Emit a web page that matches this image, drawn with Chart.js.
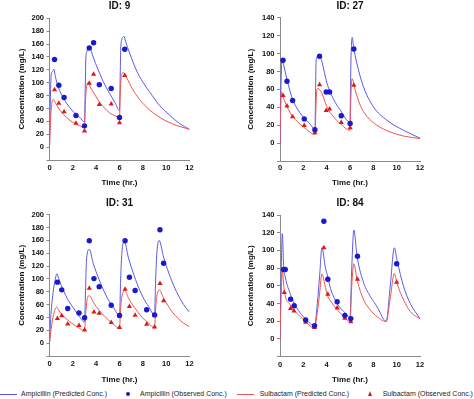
<!DOCTYPE html>
<html>
<head>
<meta charset="utf-8">
<script src="https://cdn.jsdelivr.net/npm/chart.js@4.4.1/dist/chart.umd.min.js"></script>
<style>
  html, body { margin: 0; padding: 0; background: #fff; }
  body { width: 474px; height: 399px; position: relative; overflow: hidden; font-family: "Liberation Sans", Arial, sans-serif; }
  canvas { position: absolute; }
  .lg { position: absolute; font-size: 7px; line-height: 8px; color: #222; white-space: nowrap; }
  .ln { position: absolute; height: 1px; }
  .dot { position: absolute; width: 4px; height: 4px; border-radius: 50%; background: #1a1acc; }
  .tri { position: absolute; width: 0; height: 0; border-left: 2.5px solid transparent; border-right: 2.5px solid transparent; border-bottom: 5px solid #dd1a1a; }
</style>
</head>
<body>
<canvas id="c1" width="239" height="190" style="left:0px;top:0px;width:239px;height:190px"></canvas>
<canvas id="c2" width="220" height="191" style="left:240px;top:0px;width:220px;height:191px"></canvas>
<canvas id="c3" width="239" height="193" style="left:0px;top:194px;width:239px;height:193px"></canvas>
<canvas id="c4" width="220" height="193" style="left:240px;top:194px;width:220px;height:193px"></canvas>

<div class="ln" style="left:0px;top:394px;width:17px;background:#5a5ae6"></div>
<div class="lg" style="left:21px;top:390px">Ampicillin (Predicted Conc.)</div>
<div class="dot" style="left:125.7px;top:392px"></div>
<div class="lg" style="left:140px;top:390px">Ampicillin (Observed Conc.)</div>
<div class="ln" style="left:237px;top:394px;width:17px;background:#ee5555"></div>
<div class="lg" style="left:259.7px;top:390px">Sulbactam (Predicted Conc.)</div>
<div class="tri" style="left:367.8px;top:391px"></div>
<div class="lg" style="left:382.7px;top:390px">Sulbactam (Observed Conc.)</div>

<script>
// ---------- data ----------
const panelTitles = ['ID: 9', 'ID: 27', 'ID: 31', 'ID: 84'];
const yMaxes = [200, 140, 200, 140];
const xTickValues = [0, 2, 4, 6, 8, 10, 12];

// ID 9
const id9ObsT = [0.43, 0.8, 1.25, 2.27, 3.0, 3.41, 3.78, 4.27, 5.29, 6.0, 6.45];
const id9AmpObs = [136, 96, 77, 49, 33, 154, 162, 97, 91, 46, 152];
const id9SulObs = [89, 68, 55, 37, 25, 99, 113, 66, 67, 38, 111];
const id9AmpPredT = [0, 0.07, 0.14, 0.25, 0.37, 0.5, 0.62, 0.91, 1.2, 1.47, 2.04, 2.6, 3.0, 3.06, 3.12, 3.2, 3.3, 3.46, 3.6, 3.74, 4.17, 4.6, 5.16, 5.59, 6.0, 6.06, 6.1, 6.21, 6.3, 6.38, 6.52, 6.87, 7.43, 8.0, 8.57, 9.42, 10.27, 11.12, 12];
const id9AmpPred = [0, 70, 112, 117, 121, 110, 101, 86, 76, 68, 55, 46, 39, 90, 140, 148, 153, 155, 148, 140, 120, 102, 83, 70, 57, 110, 150, 168, 171, 172, 164, 146, 120, 101, 86, 65, 50, 37, 27.5];
const id9SulPredT = [0, 0.1, 0.2, 0.34, 0.5, 0.62, 0.91, 1.47, 2.04, 2.6, 3.0, 3.06, 3.12, 3.2, 3.3, 3.5, 3.74, 4.17, 4.6, 5.16, 5.6, 6.0, 6.06, 6.13, 6.2, 6.3, 6.45, 6.58, 7.15, 8.0, 9.13, 10.55, 12];
const id9SulPred = [0, 45, 68, 74, 69, 65, 57, 46, 38, 33, 30, 60, 83, 96, 100, 93, 86, 73, 63, 53, 49, 46, 80, 106, 113, 116, 113, 109, 89, 68, 50, 36, 27.5];

// ID 27
const id27ObsT = [0.26, 0.6, 1.08, 2.08, 2.99, 3.39, 3.96, 4.25, 5.25, 6.01, 6.33];
const id27AmpObs = [92.5, 69, 47.5, 27, 15, 97, 57, 57, 30.5, 22, 105];
const id27SulObs = [53, 41.5, 29.5, 19.5, 11.5, 65, 36.5, 38, 23, 17, 64.5];
const id27AmpPredT = [0, 0.08, 0.17, 0.3, 0.6, 1.08, 2.02, 2.59, 3.0, 3.05, 3.1, 3.22, 3.39, 3.59, 4.02, 4.59, 5.16, 6.0, 6.05, 6.1, 6.19, 6.3, 6.58, 7.15, 8.0, 9.15, 10.58, 12];
const id27AmpPred = [0, 60, 94, 88, 71, 49, 28.6, 21, 15.4, 60, 93, 97, 98, 91, 67, 49, 37, 23.3, 70, 101, 118, 108, 89.5, 63, 40.6, 25.6, 14.3, 5.5];
const id27SulPredT = [0, 0.06, 0.11, 0.25, 0.6, 1.08, 2.02, 3.0, 3.08, 3.16, 3.25, 3.59, 4.02, 4.59, 5.16, 6.0, 6.06, 6.13, 6.19, 6.44, 6.87, 7.44, 8.3, 9.44, 10.58, 12];
const id27SulPred = [0, 40, 57, 52, 40.6, 30, 18, 9.8, 40, 59.4, 61, 55.6, 40.6, 29.3, 21.8, 14.3, 45, 68.8, 71.8, 59.4, 42.5, 30, 20, 12.4, 7.9, 5];

// ID 31
const id31ObsT = [0.68, 1.05, 1.56, 2.53, 3.01, 3.41, 3.81, 4.26, 5.29, 6.0, 6.48, 6.85, 7.34, 8.33, 9.01, 9.47, 9.78];
const id31AmpObs = [95, 83, 54, 47, 39.5, 159.5, 100.5, 88, 59, 43, 159.5, 102.5, 82, 52, 44, 176.5, 124.5];
const id31SulObs = [38.5, 42.5, 30, 27.5, 20.5, 85.5, 48.5, 46.5, 32, 24.5, 84, 57, 43.5, 29.5, 25, 93, 66];
const id31AmpPredT = [0, 0.11, 0.34, 0.48, 0.63, 0.8, 1.0, 1.25, 1.5, 2.0, 2.5, 3.0, 3.1, 3.18, 3.41, 3.75, 4.0, 4.5, 5.0, 5.5, 6.0, 6.1, 6.2, 6.42, 6.75, 7.0, 7.5, 8.0, 8.5, 9.0, 9.1, 9.2, 9.4, 9.75, 10.0, 10.5, 11.0, 11.5, 12];
const id31AmpPred = [0, 41, 83, 98, 108, 100, 90, 80, 70, 56, 43, 33, 90, 132, 146, 124, 111, 88, 69, 55, 43, 100, 140, 158, 134, 119, 93, 72, 57, 44, 100, 140, 160, 136, 121, 96, 76, 60, 48];
const id31SulPredT = [0, 0.2, 0.4, 0.6, 0.8, 1.0, 1.5, 2.0, 2.5, 3.0, 3.1, 3.2, 3.4, 3.75, 4.0, 4.5, 5.0, 5.5, 6.0, 6.1, 6.2, 6.45, 6.75, 7.0, 7.5, 8.0, 8.5, 9.0, 9.1, 9.2, 9.4, 9.75, 10.0, 10.5, 11.0, 11.5, 12];
const id31SulPred = [0, 30, 48, 56, 51, 46, 37, 30, 24, 19.7, 45, 65, 74, 64, 57, 46, 37, 29, 23, 55, 72, 82, 71, 63, 50, 39, 31, 23.5, 55, 73, 83, 71, 63, 49, 39, 31, 26];

// ID 84
const id84AmpObsT = [0.31, 0.45, 0.91, 1.22, 2.2, 2.96, 3.76, 4.1, 4.9, 5.56, 6.07, 6.64, 10.0];
const id84AmpObs = [78.5, 78.5, 45, 37.5, 21.5, 15, 133, 67.5, 42, 26.5, 23, 93.5, 85];
const id84SulObsT = [0.37, 0.9, 1.2, 2.2, 2.96, 3.76, 4.1, 4.9, 5.56, 6.07, 6.64, 10.0];
const id84SulObs = [52.5, 34.5, 31.5, 19, 13, 103, 50.5, 35, 23.5, 19.5, 67.5, 64];
const id84AmpPredT = [0, 0.1, 0.2, 0.31, 0.45, 0.91, 1.22, 2.2, 2.96, 3.2, 3.4, 3.59, 3.9, 4.1, 4.33, 4.9, 5.47, 6.0, 6.15, 6.33, 6.61, 7.18, 7.75, 8.32, 9.1, 9.45, 9.8, 10.03, 10.6, 11.17, 12];
const id84AmpPred = [0, 75, 119, 83, 70, 50, 40, 22.5, 15, 40, 72, 103, 80, 70, 57, 40, 31, 25, 80, 123, 93, 63, 48, 36.5, 20, 60, 103, 89, 59, 40, 23];
const id84SulPredT = [0, 0.1, 0.2, 0.37, 0.9, 1.2, 2.2, 2.96, 3.2, 3.4, 3.59, 3.9, 4.1, 4.33, 4.9, 5.47, 6.0, 6.15, 6.33, 6.61, 7.18, 7.75, 8.32, 9.1, 9.45, 9.8, 10.03, 10.6, 11.17, 12];
const id84SulPred = [0, 50, 76.7, 54, 38.4, 32.7, 19.6, 12.1, 30, 52, 73.4, 58, 48, 43, 33, 25.2, 19.6, 60, 85, 66.6, 44, 32.7, 25.2, 19.6, 46, 74, 62.9, 44, 30.9, 22.6];

// ---------- styles ----------
const FONT = '"Liberation Sans", Arial, sans-serif';
const AMP_LINE = '#5a5ae6', AMP_DOT = '#1a1acc', SUL_LINE = '#ee5555', SUL_TRI = '#dd1a1a';

function pts(t, y) { return t.map((v, i) => ({ x: v, y: y[i] })); }

const panels = [
  { id: 'c1', title: panelTitles[0], yMax: yMaxes[0], ampObsT: id9ObsT, ampObs: id9AmpObs, sulObsT: id9ObsT, sulObs: id9SulObs,
    ampPT: id9AmpPredT, ampP: id9AmpPred, sulPT: id9SulPredT, sulP: id9SulPred,
    yw: 49.5, padR: 49.5, topH: 18.3, titleTop: 0, xh: 30, ytPad: 17.2, xtPad: 2.2, tickPad: 3.5 },
  { id: 'c2', title: panelTitles[1], yMax: yMaxes[1], ampObsT: id27ObsT, ampObs: id27AmpObs, sulObsT: id27ObsT, sulObs: id27SulObs,
    ampPT: id27AmpPredT, ampP: id27AmpPred, sulPT: id27SulPredT, sulP: id27SulPred,
    yw: 40, padR: 40, topH: 17.7, titleTop: 0, xh: 30, ytPad: 6.2, xtPad: 3.5, tickPad: 2.5 },
  { id: 'c3', title: panelTitles[2], yMax: yMaxes[2], ampObsT: id31ObsT, ampObs: id31AmpObs, sulObsT: id31ObsT, sulObs: id31SulObs,
    ampPT: id31AmpPredT, ampP: id31AmpPred, sulPT: id31SulPredT, sulP: id31SulPred,
    yw: 49.5, padR: 49.5, topH: 20.7, titleTop: 3.5, xh: 31, ytPad: 17.2, xtPad: 2.2, tickPad: 3.5 },
  { id: 'c4', title: panelTitles[3], yMax: yMaxes[3], ampObsT: id84AmpObsT, ampObs: id84AmpObs, sulObsT: id84SulObsT, sulObs: id84SulObs,
    ampPT: id84AmpPredT, ampP: id84AmpPred, sulPT: id84SulPredT, sulP: id84SulPred,
    yw: 40, padR: 40, topH: 21, titleTop: 3.5, xh: 30.3, ytPad: 6.2, xtPad: 2.2, tickPad: 3.5 }
];

panels.forEach(p => {
  new Chart(document.getElementById(p.id), {
    type: 'line',
    data: {
      datasets: [
        { label: 'Ampicillin (Observed Conc.)', data: pts(p.ampObsT, p.ampObs), showLine: false,
          pointStyle: 'circle', pointRadius: 2.7, pointBackgroundColor: AMP_DOT, pointBorderWidth: 0, order: 0 },
        { label: 'Sulbactam (Observed Conc.)', data: pts(p.sulObsT, p.sulObs), showLine: false,
          pointStyle: 'triangle', pointRadius: 3, pointBackgroundColor: SUL_TRI, pointBorderWidth: 0, order: 1 },
        { label: 'Ampicillin (Predicted Conc.)', data: pts(p.ampPT, p.ampP), borderColor: AMP_LINE, borderWidth: 1,
          pointRadius: 0, cubicInterpolationMode: 'monotone', order: 3 },
        { label: 'Sulbactam (Predicted Conc.)', data: pts(p.sulPT, p.sulP), borderColor: SUL_LINE, borderWidth: 1,
          pointRadius: 0, cubicInterpolationMode: 'monotone', order: 2 }
      ]
    },
    options: {
      responsive: false,
      animation: false,
      devicePixelRatio: 1,
      layout: { padding: { left: 0, right: p.padR, top: 0, bottom: 0 } },
      plugins: {
        legend: { display: false },
        tooltip: { enabled: false },
        title: { display: false }
      },
      scales: {
        head: {
          type: 'linear', position: 'top', min: 0, max: 12,
          afterFit: s => { s.height = p.topH; },
          grid: { display: false, drawTicks: false },
          border: { display: false },
          ticks: { display: false },
          title: { display: true, text: p.title, color: '#111', padding: { top: p.titleTop, bottom: 0 },
                   font: { family: FONT, size: 10, weight: 'bold', lineHeight: 1.2 } }
        },
        x: {
          type: 'linear', position: 'bottom', min: 0, max: 12,
          afterBuildTicks: s => { s.ticks = xTickValues.map(v => ({ value: v })); },
          afterFit: s => { s.height = p.xh; },
          grid: { drawOnChartArea: false, drawTicks: false, color: '#8a8a8a' },
          border: { display: true, color: '#8a8a8a', width: 1 },
          ticks: { padding: p.tickPad, color: '#111', maxRotation: 0, autoSkip: false,
                   font: { family: FONT, size: 7.5, weight: 'bold', lineHeight: 1.2 } },
          title: { display: true, text: 'Time (hr.)', color: '#111', padding: { top: 0, bottom: p.xtPad },
                   font: { family: FONT, size: 8, weight: 'bold', lineHeight: 1.2 } }
        },
        y: {
          type: 'linear', position: 'left', min: -20, max: p.yMax,
          ticks: { stepSize: 20, padding: 2.5, color: '#111', autoSkip: false,
                   callback: v => (v < 0 ? '' : v),
                   font: { family: FONT, size: 7.5, weight: 'bold', lineHeight: 1.2 } },
          afterFit: s => { s.width = p.yw; },
          grid: { drawOnChartArea: false, drawTicks: true, tickLength: 3, color: '#8a8a8a' },
          border: { display: true, color: '#8a8a8a', width: 1 },
          title: { display: true, text: 'Concentration (mg/L)', color: '#111', padding: { top: p.ytPad, bottom: 0 },
                   font: { family: FONT, size: 8, weight: 'bold', lineHeight: 1.2 } }
        }
      }
    }
  });
});
</script>
</body>
</html>
